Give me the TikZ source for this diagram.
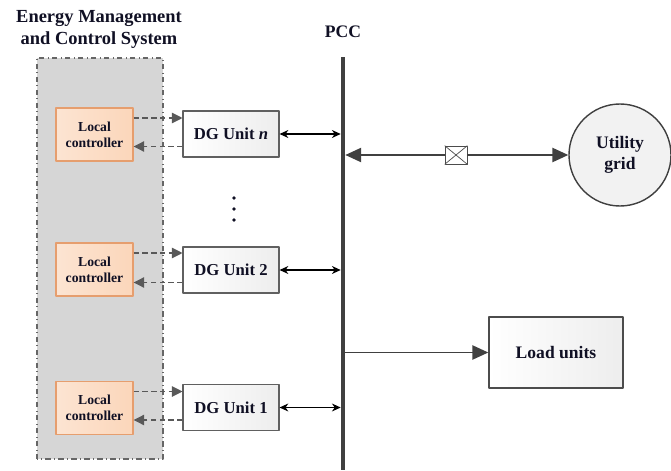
\documentclass[tikz,border=0pt]{standalone}
\usepackage{fontspec}
\setmainfont{Liberation Serif}
\usepackage{xcolor}
\usetikzlibrary{arrows.meta,calc}

\definecolor{lcfill}{RGB}{251,214,186}
\definecolor{lcdraw}{RGB}{230,158,110}
\definecolor{emsfill}{RGB}{214,214,214}
\definecolor{txt}{RGB}{16,16,36}

\begin{document}
\begin{tikzpicture}[>=Stealth,line join=round,
  lcbox/.style={draw=lcdraw,line width=0.8pt,left color=lcfill!65,right color=lcfill,
    minimum width=1.54cm,minimum height=1.06cm,inner sep=1pt,align=center,
    font=\fontsize{7.8}{9.2}\selectfont\bfseries,text=txt},
  dgbox/.style={draw=gray!75!black,line width=0.6pt,left color=white,right color=gray!14,
    minimum width=1.92cm,minimum height=0.92cm,inner sep=1pt,
    font=\fontsize{9.5}{11}\selectfont\bfseries,text=txt},
  ctrl/.style={dash pattern=on 3pt off 2pt,gray!70!black,line width=0.6pt,-{Triangle[length=6pt,width=6pt]}},
  link/.style={{Stealth[length=5pt,width=4.5pt]}-{Stealth[length=5pt,width=4.5pt]},line width=0.9pt,black},
  feed/.style={line width=1.1pt,black!75,-{Triangle[length=9pt,width=8pt]}}]
  \useasboundingbox (0,0) rectangle (13.42,9.40);
  \coordinate (EMSsw) at (0.740,0.220);
  \coordinate (EMSne) at (3.260,8.240);
  \coordinate (PCCtop) at (6.860,8.260);
  \coordinate (PCCbot) at (6.860,0.000);
  % energy management system
  \draw[dash dot,draw=black!60,fill=emsfill,line width=0.6pt] (EMSsw) rectangle (EMSne);
  \node[align=center,font=\fontsize{10.5}{12.5}\selectfont\bfseries,text=txt] (title) at (1.980,8.810) {Energy Management\\and Control System};
  \node[font=\fontsize{10}{12}\selectfont\bfseries,text=txt] (pcc) at (6.860,8.760) {PCC};
  % local controllers and DG units
  \node[lcbox] (LCn) at (1.890,6.710) {Local\\controller};
  \node[lcbox] (LC2) at (1.890,4.010) {Local\\controller};
  \node[lcbox] (LC1) at (1.890,1.240) {Local\\controller};
  \node[dgbox] (DGn) at (4.620,6.720) {DG Unit \textit{n}};
  \node[dgbox] (DG2) at (4.620,4.000) {DG Unit 2};
  \node[dgbox] (DG1) at (4.620,1.250) {DG Unit 1};
  \fill[txt] (4.680,5.440) circle (1pt);
  \fill[txt] (4.680,5.220) circle (1pt);
  \fill[txt] (4.680,5.000) circle (1pt);
  \draw[ctrl] ([yshift=0.33cm]LCn.east) -- ([yshift=0.33cm]LCn.east -| DGn.west);
  \draw[ctrl] ([yshift=-0.25cm]DGn.west) -- ([yshift=-0.25cm]DGn.west -| LCn.east);
  \draw[ctrl] ([yshift=0.33cm]LC2.east) -- ([yshift=0.33cm]LC2.east -| DG2.west);
  \draw[ctrl] ([yshift=-0.25cm]DG2.west) -- ([yshift=-0.25cm]DG2.west -| LC2.east);
  \draw[ctrl] ([yshift=0.33cm]LC1.east) -- ([yshift=0.33cm]LC1.east -| DG1.west);
  \draw[ctrl] ([yshift=-0.25cm]DG1.west) -- ([yshift=-0.25cm]DG1.west -| LC1.east);
  \draw[link,shorten >=1.3pt] (DGn.east) -- (DGn.east -| PCCtop);
  \draw[link,shorten >=1.3pt] (DG2.east) -- (DG2.east -| PCCtop);
  \draw[link,shorten >=1.3pt] (DG1.east) -- (DG1.east -| PCCtop);
  % utility grid and load
  \node[draw=black!70,fill=white,minimum width=0.44cm,minimum height=0.36cm,inner sep=0pt] (brk) at (9.120,6.300) {};
  \draw[black!70] (brk.north west) -- (brk.south east) (brk.south west) -- (brk.north east);
  \node[circle,draw=black!75,line width=0.8pt,fill=gray!10,minimum size=2.04cm,align=center,
    font=\fontsize{10}{12}\selectfont\bfseries,text=txt] (grid) at (12.400,6.300) {Utility\\grid};
  \node[draw=black!70,line width=0.8pt,left color=white,right color=gray!14,minimum width=2.68cm,minimum height=1.42cm,
    font=\fontsize{10}{12}\selectfont\bfseries,text=txt] (load) at (11.120,2.350) {Load units};
  \draw[feed,shorten >=1.3pt] (brk.west) -- (brk.west -| PCCtop);
  \draw[feed] (brk.east) -- (grid.west);
  \draw[feed] (load.west -| PCCtop) -- (load.west);
  % PCC bus
  \draw[line width=2.6pt,black!75] (PCCtop) -- (PCCbot);
\end{tikzpicture}
\end{document}
